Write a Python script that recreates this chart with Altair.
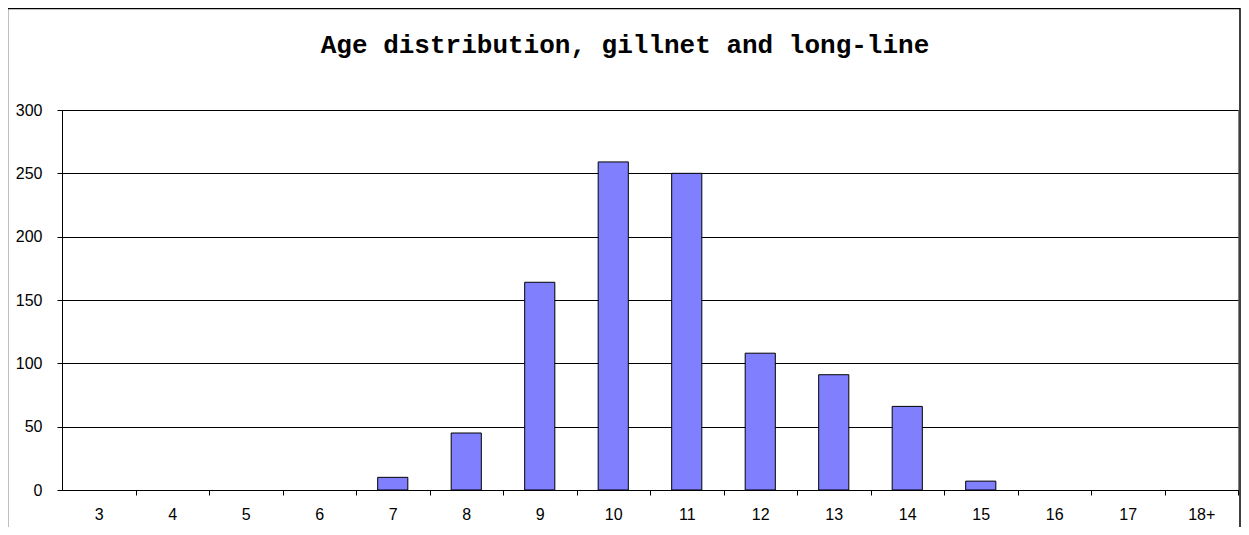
import altair as alt
import pandas as pd

ages = ["3", "4", "5", "6", "7", "8", "9", "10", "11", "12", "13", "14", "15", "16", "17", "18+"]
counts = [0, 0, 0, 0, 10, 45, 164, 259, 250, 108, 91, 66, 7, 0, 0, 0]
y_ticks = [0, 50, 100, 150, 200, 250, 300]
title_text = "Age distribution, gillnet and long-line"

df = pd.DataFrame({"age": ages, "count": counts})

step = 1176 / len(ages)

bars = alt.Chart(df).transform_filter(
    alt.datum["count"] > 0
).mark_bar(
    color="#8080FF", stroke="black", strokeWidth=1
).encode(
    x=alt.X("age:N", sort=ages, title=None,
            scale=alt.Scale(domain=ages, paddingInner=0.59, paddingOuter=0.295),
            axis=alt.Axis(labelAngle=0, domainColor="black",
                          ticks=True, tickColor="black", tickSize=5, tickWidth=1,
                          tickOffset=step / 2, labelOffset=-step / 2,
                          labelPadding=11, labelFontSize=16,
                          labelFont="Liberation Sans", labelColor="black",
                          grid=False)),
    y=alt.Y("count:Q", title=None,
            scale=alt.Scale(domain=[0, 300], nice=False),
            axis=alt.Axis(values=y_ticks, domainColor="black", ticks=True,
                          tickColor="black", tickSize=5, tickWidth=1,
                          labelPadding=15, labelFontSize=16,
                          labelFont="Liberation Sans", labelColor="black",
                          grid=True, gridColor="black", gridOpacity=1, gridWidth=1)),
)

one = pd.DataFrame({"t": [title_text]})

frame = alt.Chart(one).mark_rect(
    fill=None, stroke="black", strokeWidth=1.5
).encode(
    x=alt.value(-54.5), x2=alt.value(1178), y=alt.value(-101.5), y2=alt.value(560)
)

title = alt.Chart(one).mark_text(
    font="Liberation Mono", fontSize=26, fontWeight="bold", color="black",
    align="center", baseline="alphabetic"
).encode(
    text="t:N", x=alt.value(563), y=alt.value(-57)
)

chart = alt.layer(bars, frame, title).properties(
    width=1176, height=380,
    autosize=alt.AutoSizeParams(type="none"),
    padding={"left": 54, "top": 102, "right": 3, "bottom": 37},
).configure_view(stroke="#808080", strokeWidth=1)

chart.save("out.html", embed_options={"renderer": "svg", "actions": False})
